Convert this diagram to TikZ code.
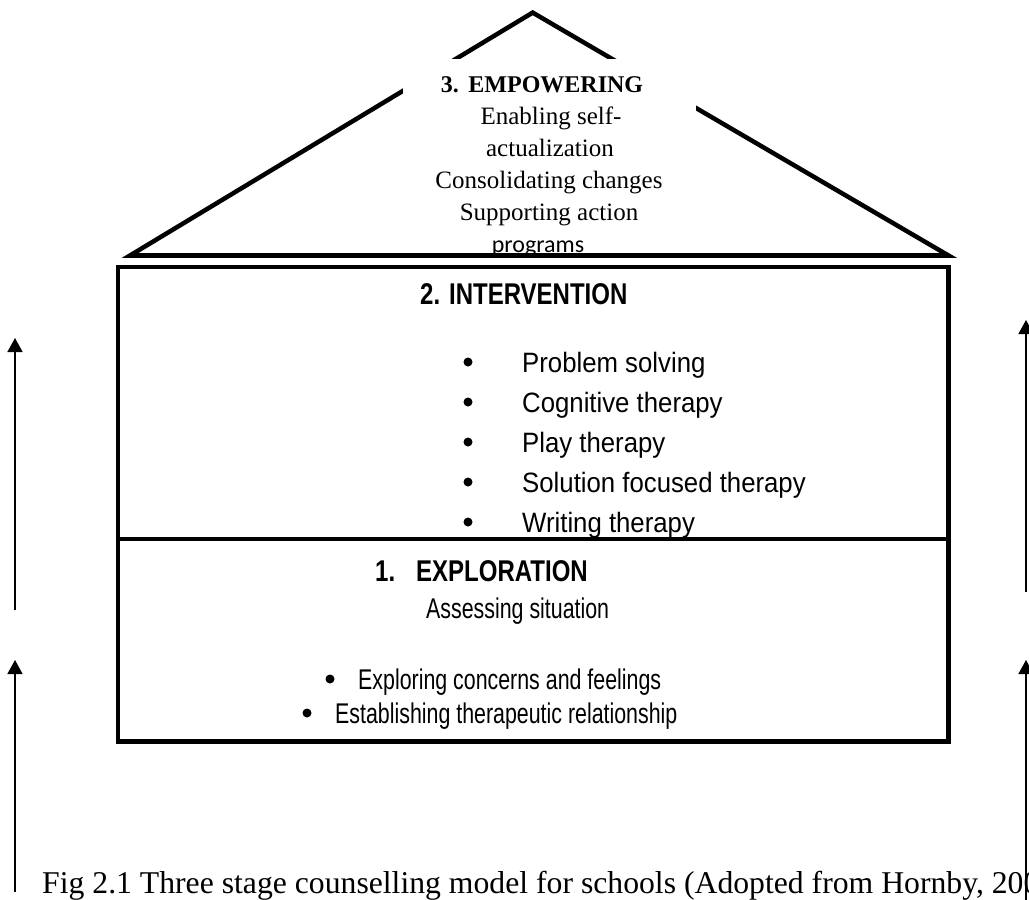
\documentclass[tikz,border=0pt]{standalone}
\usepackage{fontspec}
\setmainfont{Liberation Serif}
\newfontfamily\narrowsans[FakeStretch=0.8]{Liberation Sans}
\newfontfamily\listsans[FakeStretch=0.92]{Liberation Sans}
\newfontfamily\tightsans[FakeStretch=0.75]{Liberation Sans}
\newfontfamily\calibri{Carlito}
\usetikzlibrary{arrows.meta}

\begin{document}
\begin{tikzpicture}[x=1pt,y=-1pt,
  heavy/.style={line width=4.5pt, line join=miter},
  rise/.style={line width=1.5pt, -{Triangle[width=15pt,length=14pt]}},
  serif/.style={font=\fontsize{25}{28}\selectfont, inner sep=0, anchor=base},
  head/.style={font=\narrowsans\bfseries\fontsize{30}{34}\selectfont, inner sep=0, anchor=base west},
  item/.style={font=\listsans\fontsize{28}{32}\selectfont, inner sep=0, anchor=base west},
  detail/.style={font=\tightsans\fontsize{28.5}{32}\selectfont, inner sep=0, anchor=base west},
  dot/.style={circle, fill=black, inner sep=0, minimum size=9pt},
  stagebox/.style={draw, heavy, inner sep=0, minimum width=830.5pt},
]
\useasboundingbox (0,0) rectangle (1029,900);

% roof with its text panel
\coordinate (apex) at (532.7,12.6);
\coordinate (eaveL) at (130,255.5);
\coordinate (eaveR) at (948.5,255.5);
\draw[heavy] (eaveL) -- (apex) -- (eaveR) -- cycle;
\node[fill=white, inner sep=0, minimum width=293pt, minimum height=192pt] (roofbox) at (549.5,155) {};
\node[serif, font=\bfseries\fontsize{24}{28}\selectfont] (s3) at (542,92.7) {3.\hspace{0.4em}EMPOWERING};
\node[serif] (s3a) at (551,124) {Enabling self-};
\node[serif] (s3b) at (550,156) {actualization};
\node[serif] (s3c) at (549,188) {Consolidating changes};
\node[serif] (s3d) at (549,220) {Supporting action};
\node[serif, font=\calibri\fontsize{24}{28}\selectfont] (s3e) at (538,252) {programs};
\draw[heavy] (eaveL) -- (eaveR);

% stage boxes
\node[stagebox, minimum height=272pt] (upper) at (533.25,403) {};
\node[stagebox, minimum height=202.5pt] (lower) at (533.25,640.25) {};

% stage 2
\node[head] (s2) at (420,304) {2. INTERVENTION};
\node[dot] (b1) at (468,362) {};
\node[item] (i1) at (522,372) {Problem solving};
\node[dot] (b2) at (468,402) {};
\node[item] (i2) at (522,412) {Cognitive therapy};
\node[dot] (b3) at (468,442) {};
\node[item] (i3) at (522,452) {Play therapy};
\node[dot] (b4) at (468,482) {};
\node[item] (i4) at (522,492) {Solution focused therapy};
\node[dot] (b5) at (468,522) {};
\node[item] (i5) at (522,532) {Writing therapy};

% stage 1
\node[head] (s1n) at (375,581) {1.};
\node[head] (s1) at (416,581) {EXPLORATION};
\node[detail] (s1a) at (426,618) {Assessing situation};
\node[dot] (b6) at (330,679) {};
\node[detail] (j1) at (358,689) {Exploring concerns and feelings};
\node[dot] (b7) at (307,713) {};
\node[detail] (j2) at (335,723) {Establishing therapeutic relationship};

% side arrows
\coordinate (la1) at (15,610);  \coordinate (la1t) at (15,338);
\coordinate (la2) at (15,892);  \coordinate (la2t) at (15,660);
\coordinate (ra1) at (1026,592); \coordinate (ra1t) at (1026,320);
\coordinate (ra2) at (1026,905); \coordinate (ra2t) at (1026,660);
\draw[rise] (la1) -- (la1t);
\draw[rise] (la2) -- (la2t);
\draw[rise] (ra1) -- (ra1t);
\draw[rise] (ra2) -- (ra2t);

% caption
\node[inner sep=0, anchor=base west, font=\fontsize{31.7}{34}\selectfont] (cap) at (42,893)
  {Fig 2.1 Three stage counselling model for schools (Adopted from Hornby, 200};
\end{tikzpicture}
\end{document}
